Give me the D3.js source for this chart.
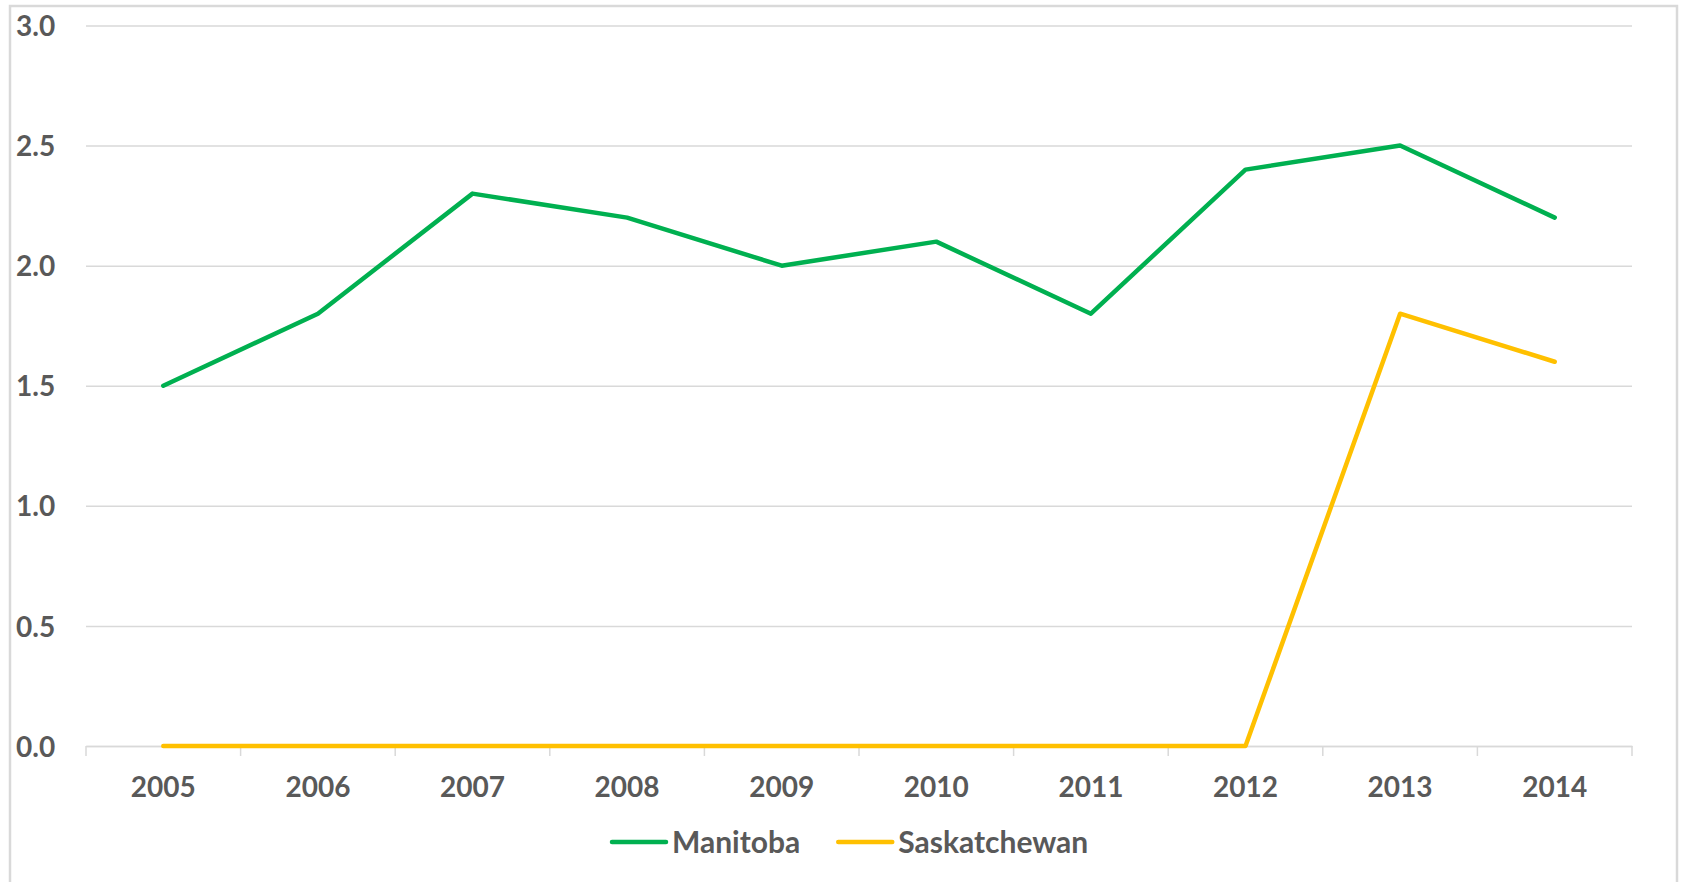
<!DOCTYPE html>
<html>
<head>
<meta charset="utf-8">
<script src="https://cdn.jsdelivr.net/npm/d3@7"></script>
<style>
  body { margin: 0; background: #fff; }
  svg { display: block; }
  .axis text { font-family: Lato, 'Open Sans', sans-serif; font-weight: 700; fill: #595959; }
  .legend text { font-family: Lato, 'Open Sans', sans-serif; font-weight: 700; fill: #595959; }
</style>
</head>
<body>
<svg id="chart"></svg>
<script>
const years = ['2005', '2006', '2007', '2008', '2009', '2010', '2011', '2012', '2013', '2014'];
const manitoba = [1.5, 1.8, 2.3, 2.2, 2.0, 2.1, 1.8, 2.4, 2.5, 2.2];
const saskatchewan = [0, 0, 0, 0, 0, 0, 0, 0, 1.8, 1.6];
const yTicks = [0, 0.5, 1.0, 1.5, 2.0, 2.5, 3.0];

const series = [
  {name: 'Manitoba', values: manitoba, color: '#00B050'},
  {name: 'Saskatchewan', values: saskatchewan, color: '#FFC000'}
];

const totalWidth = 1683;
const totalHeight = 882;
const margin = {top: 25.5, right: 51, bottom: 136, left: 86};
const width = totalWidth - margin.left - margin.right;
const height = totalHeight - margin.top - margin.bottom;

const svg = d3.select('#chart')
  .attr('width', totalWidth)
  .attr('height', totalHeight);

// outer frame
svg.append('rect')
  .attr('x', 10)
  .attr('y', 6)
  .attr('width', 1667)
  .attr('height', 890)
  .attr('fill', 'none')
  .attr('stroke', '#d9d9d9')
  .attr('stroke-width', 2.5);

const chart = svg.append('g')
  .attr('transform', `translate(${margin.left}, ${margin.top})`);

const x = d3.scaleBand()
  .domain(years)
  .range([0, width]);

const y = d3.scaleLinear()
  .domain([0, 3])
  .range([height, 0]);

// gridlines + y labels
const yAxis = d3.axisLeft(y)
  .tickValues(yTicks)
  .tickFormat(d3.format('.1f'))
  .tickSize(-width)
  .tickPadding(0);

const axisY = chart.append('g')
  .attr('class', 'y axis')
  .call(yAxis);

axisY.select('.domain').remove();
axisY.selectAll('.tick line')
  .attr('stroke', '#d9d9d9')
  .attr('stroke-width', 1.5);
axisY.selectAll('.tick text')
  .attr('text-anchor', 'start')
  .attr('x', 16 - margin.left)
  .attr('dy', '0.36em')
  .style('font-size', '28px');

// x axis
const xAxis = d3.axisBottom(x)
  .tickSize(0)
  .tickPadding(31);

const axisX = chart.append('g')
  .attr('class', 'x axis')
  .attr('transform', `translate(0, ${height})`)
  .call(xAxis);

axisX.select('.domain')
  .attr('stroke', '#d9d9d9')
  .attr('stroke-width', 1.5);
axisX.selectAll('.tick text')
  .style('font-size', '28px');

// category separator ticks
const bounds = years.map(d => x(d)).concat([width]);
axisX.selectAll('.sep')
    .data(bounds)
  .enter().append('line')
    .attr('class', 'sep')
    .attr('x1', d => d)
    .attr('x2', d => d)
    .attr('y1', 0)
    .attr('y2', 10)
    .attr('stroke', '#d9d9d9')
    .attr('stroke-width', 1.5);

// lines
const line = d3.line()
  .x((d, i) => x(years[i]) + x.bandwidth() / 2)
  .y(d => y(d));

chart.selectAll('.series')
    .data(series.slice().reverse())
  .enter().append('path')
    .attr('class', 'series')
    .attr('d', d => line(d.values))
    .attr('fill', 'none')
    .attr('stroke', d => d.color)
    .attr('stroke-width', 4.5)
    .attr('stroke-linejoin', 'round')
    .attr('stroke-linecap', 'round');

// legend
const legend = svg.append('g')
  .attr('class', 'legend')
  .attr('transform', 'translate(0, 842)');

let cursor = 612;
series.forEach(s => {
  legend.append('line')
    .attr('x1', cursor)
    .attr('x2', cursor + 54)
    .attr('y1', 0)
    .attr('y2', 0)
    .attr('stroke', s.color)
    .attr('stroke-width', 4.5)
    .attr('stroke-linecap', 'round');
  const t = legend.append('text')
    .attr('x', cursor + 60)
    .attr('y', 0)
    .attr('dy', '0.36em')
    .style('font-size', '30px')
    .text(s.name);
  cursor += 60 + t.node().getComputedTextLength() + 38;
});
</script>
</body>
</html>
